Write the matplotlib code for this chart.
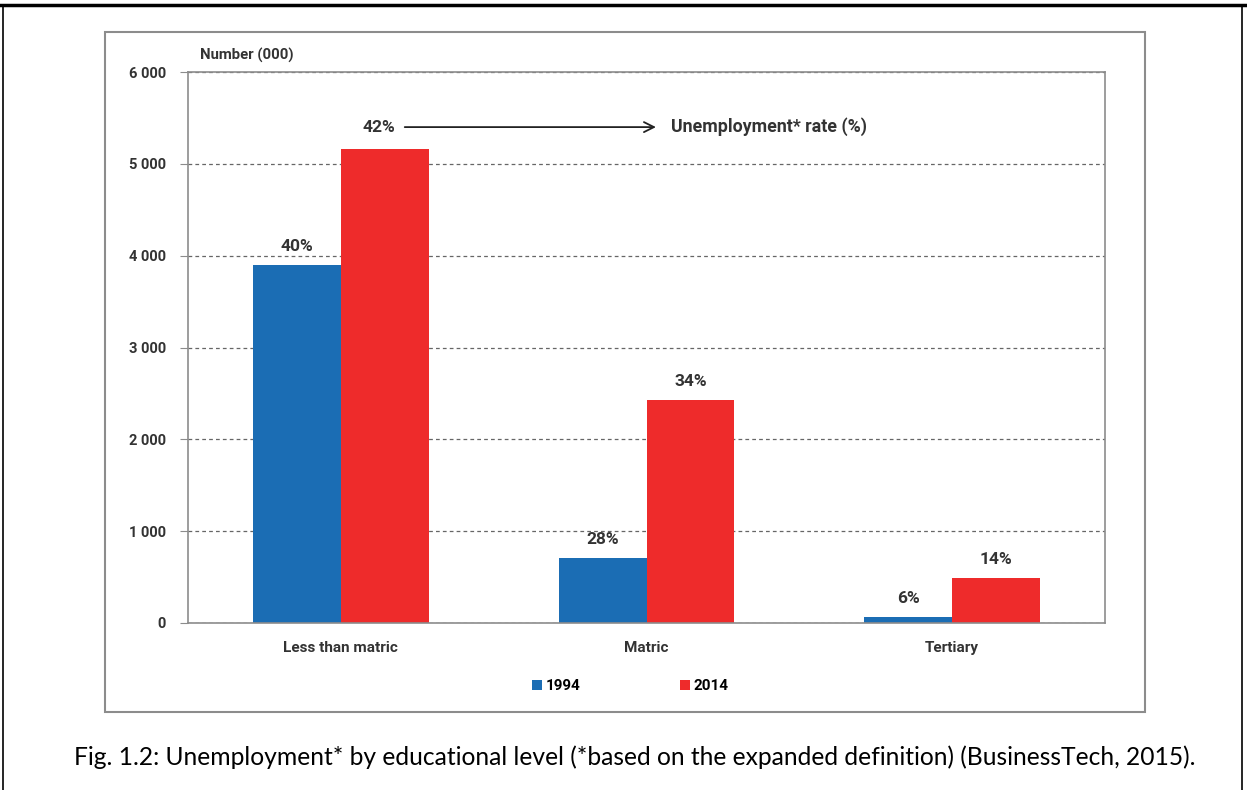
import matplotlib.pyplot as plt
import numpy as np
from matplotlib.patches import Rectangle
from matplotlib.lines import Line2D

# data
categories = ["Less than matric", "Matric", "Tertiary"]
years = ["1994", "2014"]
values_1994 = [3900, 710, 65]
values_2014 = [5160, 2430, 490]
rates_1994 = ["40%", "28%", "6%"]
rates_2014 = ["42%", "34%", "14%"]
yticks = [0, 1000, 2000, 3000, 4000, 5000, 6000]
ytick_labels = ["0", "1 000", "2 000", "3 000", "4 000", "5 000", "6 000"]

blue = "#1b6db4"
red = "#ee2b2b"
txt = "#333333"
fam = ["Roboto", "DejaVu Sans"]
plt.rcParams["font.family"] = fam

fig = plt.figure(figsize=(12.47, 7.9), dpi=100)
W, H = 1247, 790

def fx(px):
    return px / W

def fy(py):
    return 1 - py / H

# outer frame of the page
fig.add_artist(Line2D([0, 1], [fy(5), fy(5)], color="black", lw=2.5))
fig.add_artist(Line2D([fx(3), fx(3)], [fy(5), 0], color="black", lw=1.2))
fig.add_artist(Line2D([fx(1242), fx(1242)], [fy(5), 0], color="black", lw=1.2))

# chart box
fig.add_artist(Rectangle((fx(105), fy(712)), fx(1145) - fx(105), fy(32) - fy(712),
                         fill=False, edgecolor="#8c8c8c", lw=1.5))

ax = fig.add_axes([fx(188), fy(623), fx(1105) - fx(188), fy(72) - fy(623)])

x = np.arange(len(categories))
w = 0.287
ax.bar(x - w / 2, values_1994, w, color=blue, label=years[0])
ax.bar(x + w / 2, values_2014, w, color=red, label=years[1])

for i in range(len(categories)):
    ax.annotate(rates_1994[i], (x[i] - w / 2, values_1994[i]), xytext=(0, 8),
                textcoords="offset points", ha="center", va="bottom",
                fontsize=12.5, fontweight="bold", color=txt)
    if i > 0:
        ax.annotate(rates_2014[i], (x[i] + w / 2, values_2014[i]), xytext=(0, 8),
                    textcoords="offset points", ha="center", va="bottom",
                    fontsize=12.5, fontweight="bold", color=txt)

# 42% with the arrow to the rate label
ax.text(x[0] + w / 2 - 0.02, 5400, rates_2014[0], ha="center", va="center",
        fontsize=12.5, fontweight="bold", color=txt)
ax.annotate("", xy=(1.04, 5400), xytext=(0.2, 5400),
            arrowprops=dict(arrowstyle="->", color="#222222", lw=1.3, mutation_scale=18))
ax.text(1.08, 5400, "Unemployment* rate (%)", ha="left", va="center",
        fontsize=12.8, fontweight="bold", color=txt)

ax.set_xlim(-0.5, 2.5)
ax.set_ylim(0, 6000)
ax.set_yticks(yticks)
ax.set_yticklabels(ytick_labels, fontsize=10.5, fontweight="bold", color=txt)
ax.set_xticks(x)
ax.set_xticklabels(categories, fontsize=11, fontweight="bold", color=txt)
ax.tick_params(axis="x", length=0, pad=13)
ax.tick_params(axis="y", length=6, color="#8c8c8c", pad=10)
for s in ax.spines.values():
    s.set_color("#8c8c8c")
    s.set_linewidth(1.2)
ax.set_axisbelow(True)
ax.yaxis.grid(True, linestyle=(0, (3, 2.5)), color="#666666", lw=0.9)

ax.text(12 / (1105 - 188), 1.017, "Number (000)", transform=ax.transAxes, fontsize=10.7,
        fontweight="bold", color=txt, va="bottom", ha="left")

ax.legend(loc="center", bbox_to_anchor=(0.482, -0.115), ncol=2, frameon=False,
          prop={"weight": "bold", "size": 11, "family": fam},
          handlelength=0.7, handleheight=0.7, columnspacing=6.5, handletextpad=0.2)

fig.text(fx(635), fy(757), "Fig. 1.2: Unemployment* by educational level (*based on the expanded definition) (BusinessTech, 2015).",
         ha="center", va="center", fontsize=17.7, color="black", family=["Lato", "DejaVu Sans"])

fig.savefig("out.png", dpi=100)
